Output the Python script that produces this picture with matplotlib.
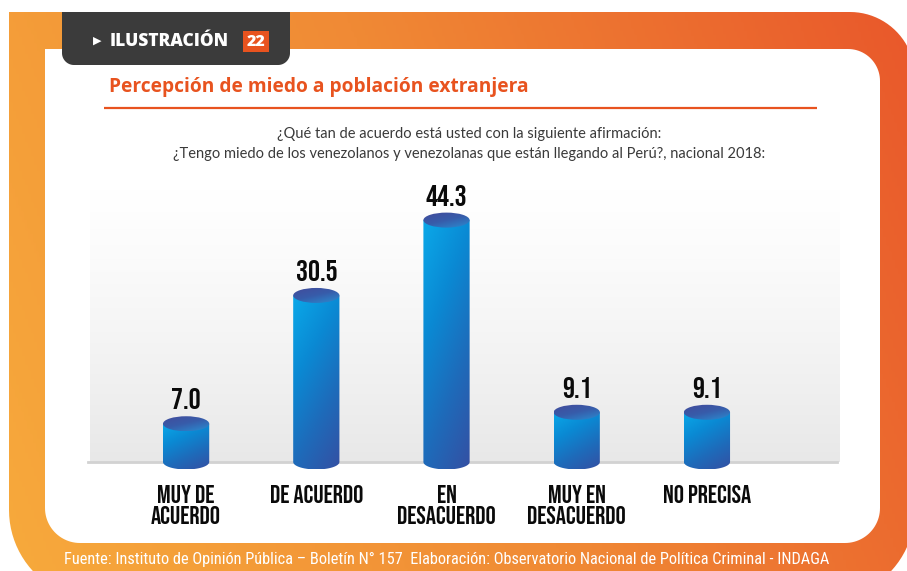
import numpy as np
import matplotlib
matplotlib.use('Agg')
import matplotlib.pyplot as plt
from matplotlib.path import Path
from matplotlib.patches import PathPatch, Ellipse, Rectangle
from matplotlib.colors import LinearSegmentedColormap
import logging
logging.getLogger('matplotlib.font_manager').setLevel(logging.ERROR)

# data
categories = ['MUY DE\nACUERDO', 'DE ACUERDO', 'EN\nDESACUERDO', 'MUY EN\nDESACUERDO', 'NO PRECISA']
values = [7.0, 30.5, 44.3, 9.1, 9.1]

title = 'Percepción de miedo a población extranjera'
subtitle = ('¿Qué tan de acuerdo está usted con la siguiente afirmación:\n'
            '¿Tengo miedo de los venezolanos y venezolanas que están llegando al Perú?, nacional 2018:')
source = ('Fuente: Instituto de Opinión Pública – Boletín N° 157  Elaboración: '
          'Observatorio Nacional de Política Criminal - INDAGA')

CONDENSED = ['Bebas Neue', 'Oswald', 'Liberation Sans Narrow', 'DejaVu Sans']
NARROW = ['Roboto Condensed', 'Archivo Narrow', 'PT Sans Narrow', 'Liberation Sans Narrow',
          'IBM Plex Sans Condensed', 'DejaVu Sans']
OPEN = ['Open Sans', 'DejaVu Sans']
ORANGE_RED = '#E8531F'


def rrect(x0, y0, x1, y1, r_tl, r_tr, r_br, r_bl, n=24):
    # rounded rectangle in pixel coords (y grows downwards)
    pts = []

    def arc(cx, cy, r, a0, a1):
        if r == 0:
            pts.append((cx, cy))
            return
        for a in np.linspace(a0, a1, n):
            pts.append((cx + r * np.cos(a), cy + r * np.sin(a)))

    arc(x0 + r_tl, y0 + r_tl, r_tl, np.pi, 1.5 * np.pi)
    arc(x1 - r_tr, y0 + r_tr, r_tr, 1.5 * np.pi, 2 * np.pi)
    arc(x1 - r_br, y1 - r_br, r_br, 0, 0.5 * np.pi)
    arc(x0 + r_bl, y1 - r_bl, r_bl, 0.5 * np.pi, np.pi)
    pts.append(pts[0])
    return Path(pts, closed=True)


fig = plt.figure(figsize=(9.07, 5.71), dpi=100)
fig.patch.set_facecolor('white')

# --- decoration layer in pixel coordinates ---
bg = fig.add_axes([0, 0, 1, 1])
bg.set_xlim(0, 907)
bg.set_ylim(571, 0)
bg.axis('off')

# orange frame with diagonal gradient
frame_cmap = LinearSegmentedColormap.from_list('frame', ['#F7AA3C', '#F08A35', '#E9582B'])
gx = np.linspace(0, 1, 300)[None, :]
gy = np.linspace(0, 1, 200)[:, None]
grad = 0.8 * gx + 0.2 * (1 - gy)
outer = PathPatch(rrect(9, 12, 915, 600, 0, 65, 90, 90), facecolor='none', edgecolor='none')
bg.add_patch(outer)
im = bg.imshow(grad, cmap=frame_cmap, extent=[0, 907, 571, 0], aspect='auto', zorder=1)
im.set_clip_path(outer)

# white panel
bg.add_patch(PathPatch(rrect(45, 49, 880, 543, 0, 32, 35, 35),
                       facecolor='white', edgecolor='none', zorder=2))

# light gray gradient behind the chart
shade = np.ones((100, 2, 4))
shade[..., :3] = 0.91
shade[..., 3] = np.linspace(0, 1, 100)[:, None] ** 1.3
bg.imshow(shade, extent=[90, 840, 462, 185], aspect='auto', zorder=3, interpolation='bilinear')

# dark tab
bg.add_patch(PathPatch(rrect(62, 12, 290, 65, 0, 0, 12, 12),
                       facecolor='#3B3B3B', edgecolor='none', zorder=4))
bg.text(93, 41, '▶', color='white', fontsize=8, family=['DejaVu Sans'],
        ha='left', va='center', zorder=5)
bg.text(110, 41, 'ILUSTRACIÓN', color='white', fontsize=12.5, family=OPEN,
        fontweight='heavy', ha='left', va='center', zorder=5)
bg.add_patch(Rectangle((243, 31), 26, 21, facecolor=ORANGE_RED, edgecolor='none', zorder=5))
bg.text(256, 42, '22', color='white', fontsize=11.5, family=OPEN,
        fontweight='heavy', ha='center', va='center', zorder=6)

# title and underline
bg.text(109, 87, title, color=ORANGE_RED, fontsize=13.8, family=OPEN,
        fontweight='bold', ha='left', va='center', zorder=5)
bg.plot([104, 817], [108, 108], color=ORANGE_RED, lw=1.6, zorder=5, solid_capstyle='butt')

# subtitle
bg.text(469, 144, subtitle, color='#3A3A3A', fontsize=10.5, family=['Lato', 'DejaVu Sans'],
        ha='center', va='center', linespacing=1.5, zorder=5)

# source
bg.text(447, 559, source, color='white', fontsize=11.8, family=NARROW,
        ha='center', va='center', zorder=5)

# --- chart axes ---
ax = fig.add_axes([0.1334, 0.1527, 0.7178, 0.4972])
ax.patch.set_visible(False)
for s in ax.spines.values():
    s.set_visible(False)

w = 0.355   # cylinder width (x units)
eh = 2.75   # ellipse height (y units)

body_cmap = LinearSegmentedColormap.from_list('body', ['#0AA9E9', '#0A8AD4', '#1E6BBA', '#3450A3'])
top_cmap = LinearSegmentedColormap.from_list('top', ['#2A8DD2', '#375CAA', '#434A9A'])

xx = np.linspace(0, 1, 60)[None, :]
yy = np.linspace(0, 1, 200)[:, None]
body_grad = 0.68 * (1 - yy) + 0.32 * xx
top_grad = 0.6 * yy + 0.4 * (1 - xx)

ax.axhline(0, xmin=-0.05, xmax=1.10, color='#D2D2D2', lw=2, clip_on=False, zorder=1)

xpos = np.arange(len(categories))
for x, v in zip(xpos, values):
    theta = np.linspace(np.pi, 2 * np.pi, 40)
    verts = [(x - w / 2, v), (x - w / 2, 0)]
    verts += list(zip(x + w / 2 * np.cos(theta), eh / 2 * np.sin(theta)))
    verts += [(x + w / 2, v), (x - w / 2, v)]
    body = PathPatch(Path(verts, closed=True), facecolor='none', edgecolor='none')
    ax.add_patch(body)
    b_im = ax.imshow(body_grad, cmap=body_cmap, origin='lower', aspect='auto',
                     extent=[x - w / 2, x + w / 2, -eh / 2, v], zorder=3)
    b_im.set_clip_path(body)

    top = Ellipse((x, v), w, eh, facecolor='none', edgecolor='none')
    ax.add_patch(top)
    t_im = ax.imshow(top_grad, cmap=top_cmap, origin='lower', aspect='auto',
                     extent=[x - w / 2, x + w / 2, v - eh / 2, v + eh / 2], zorder=4)
    t_im.set_clip_path(top)

    ax.annotate(f'{v:.1f}', (x, v), xytext=(0, 10.5), textcoords='offset points',
                ha='center', va='baseline', fontsize=21.5, fontweight='bold',
                family=CONDENSED, color='#0A0A0A', zorder=5)

ax.set_xlim(-0.5, len(categories) - 0.5)
ax.set_ylim(-4, 48)
ax.set_yticks([])
ax.set_xticks(xpos)
ax.set_xticklabels(categories, fontsize=18.3, fontweight='bold', family=CONDENSED,
                   color='#0A0A0A', linespacing=1.18)
ax.tick_params(axis='x', length=0, pad=1)

fig.savefig('out.png', dpi=100, facecolor='white')
